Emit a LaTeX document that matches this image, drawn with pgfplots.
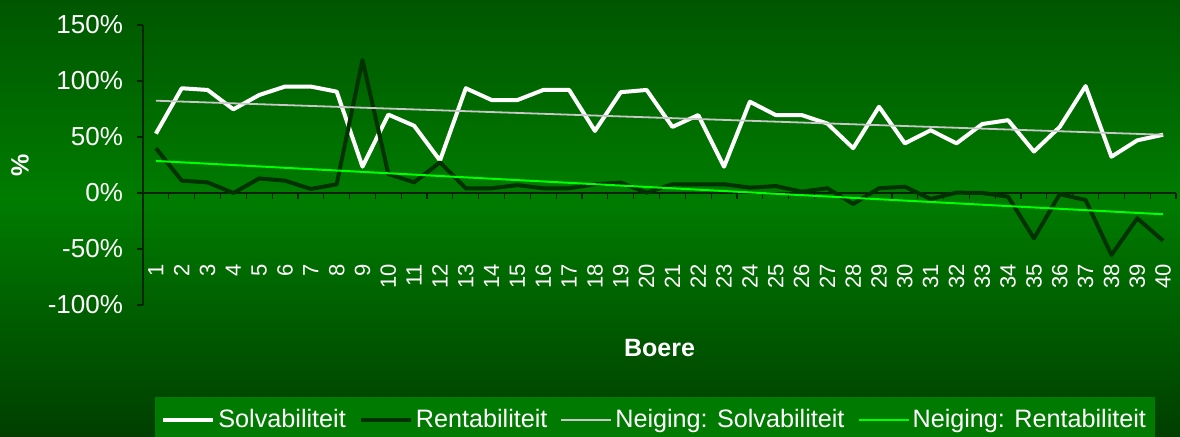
\documentclass[border=0pt]{standalone}
\usepackage{pgfplots}
\pgfplotsset{compat=1.18}
\usepackage{fontspec}
\setmainfont{Liberation Sans}
\definecolor{bgtop}{HTML}{005600}
\definecolor{bgmid}{HTML}{007C00}
\definecolor{bgbot}{HTML}{003E00}
\definecolor{legendgreen}{HTML}{007A00}
\definecolor{axisdark}{HTML}{002400}
\definecolor{rentcol}{HTML}{003200}
\definecolor{trendgray}{HTML}{C8C8C8}
\definecolor{trendgreen}{HTML}{00FF00}
\begin{document}
\begin{tikzpicture}
\useasboundingbox (0pt,0pt) rectangle (590pt,218.5pt);
\clip (0pt,0pt) rectangle (590pt,218.5pt);
% background gradient (decoration only)
\foreach \i in {0,...,49}{
  \pgfmathsetmacro\p{100*(1-(\i+0.5)/50)}
  \fill[bgmid!\p!bgtop] (0pt,{118.5pt+2pt*\i}) rectangle (590pt,{118.5pt+2pt*(\i+1)+0.3pt});
  \pgfmathsetmacro\q{100*(1-(\i+0.5)/50)}
  \fill[bgmid!\q!bgbot] (0pt,{118.5pt-2.37pt*(\i+1)-0.3pt}) rectangle (590pt,{118.5pt-2.37pt*\i});
}
\begin{axis}[
  at={(71.5pt,66pt)}, anchor=south west,
  scale only axis, width=516.5pt, height=140pt,
  xmin=0.5, xmax=40.5, ymin=-100, ymax=150,
  axis x line*=middle, axis y line*=left,
  axis line style={color=axisdark, line width=0.6pt, -},
  tick align=outside,
  tick style={color=axisdark, line width=0.6pt},
  major tick length=3pt, minor tick length=3pt,
  xtick={1,...,40},
  major x tick style={draw=none},
  minor xtick={0.5,1.5,...,40.5},
  ytick={-100,-50,0,50,100,150},
  yticklabels={-100\%,-50\%,0\%,50\%,100\%,150\%},
  /pgf/number format/assume math mode=true,
  xticklabel style={rotate=90, anchor=east, font=\fontsize{11}{13}\selectfont, text=white},
  xticklabel shift=29pt,
  yticklabel style={font=\fontsize{13}{15}\selectfont, text=white},
  yticklabel shift=3.5pt,
  xlabel={Boere},
  xlabel style={at={(axis description cs:0.5,-0.154)}, anchor=center, font=\bfseries\fontsize{12.5}{15}\selectfont, text=white},
  ylabel={\%},
  ylabel style={at={(axis description cs:-0.119,0.5)}, anchor=center, font=\bfseries\fontsize{12.5}{15}\selectfont, text=white},
  legend columns=4,
  legend style={at={(axis description cs:0.0116,-0.3286)}, anchor=north west, draw=none, fill=legendgreen, text=white, font=\fontsize{12.6}{15}\selectfont, nodes={inner sep=1.5pt},
    /tikz/column 2/.style={column sep=5pt},
    /tikz/column 4/.style={column sep=5pt},
    /tikz/column 6/.style={column sep=5pt},
    inner xsep=3pt, inner ysep=4.5pt},
  legend image code/.code={\draw[#1, line cap=butt] (0pt,0pt) -- (25pt,0pt);},
  every axis plot/.append style={line join=round},
]
\addplot[white, line width=2pt, mark=none] coordinates {
(1,53)(2,93.5)(3,92)(4,74.7)(5,87.5)(6,95)(7,95)(8,90.5)(9,23.5)(10,70)
(11,60)(12,29)(13,93.5)(14,83)(15,83)(16,92)(17,92)(18,55.4)(19,90)(20,92)
(21,59)(22,69.6)(23,23.5)(24,81.5)(25,69.6)(26,69.6)(27,62)(28,40)(29,77)(30,44.3)
(31,56)(32,44.3)(33,61.6)(34,65)(35,37)(36,59)(37,95.5)(38,32.4)(39,47)(40,52)};
\addlegendentry{Solvabiliteit}
\addplot[rentcol, line width=2pt, mark=none] coordinates {
(1,40)(2,11)(3,9.5)(4,0)(5,13)(6,11)(7,3.6)(8,7.8)(9,118.8)(10,17)
(11,9.5)(12,27.4)(13,4.2)(14,4.2)(15,7)(16,4.2)(17,4.2)(18,7.8)(19,9.2)(20,0.3)
(21,7.8)(22,7.8)(23,7.8)(24,4.8)(25,6.2)(26,1.2)(27,4.2)(28,-9.8)(29,4.2)(30,5.6)
(31,-5.4)(32,0.3)(33,0)(34,-3.3)(35,-40.5)(36,-1)(37,-6.3)(38,-55.4)(39,-22.6)(40,-42.6)};
\addlegendentry{Rentabiliteit}
\addplot[trendgray, line width=0.9pt, mark=none] coordinates {(1,82.4)(40,52)};
\addlegendentry{Neiging: Solvabiliteit}
\addplot[trendgreen, line width=1pt, mark=none] coordinates {(1,28.6)(40,-19)};
\addlegendentry{Neiging: Rentabiliteit}
\end{axis}
\end{tikzpicture}
\end{document}
